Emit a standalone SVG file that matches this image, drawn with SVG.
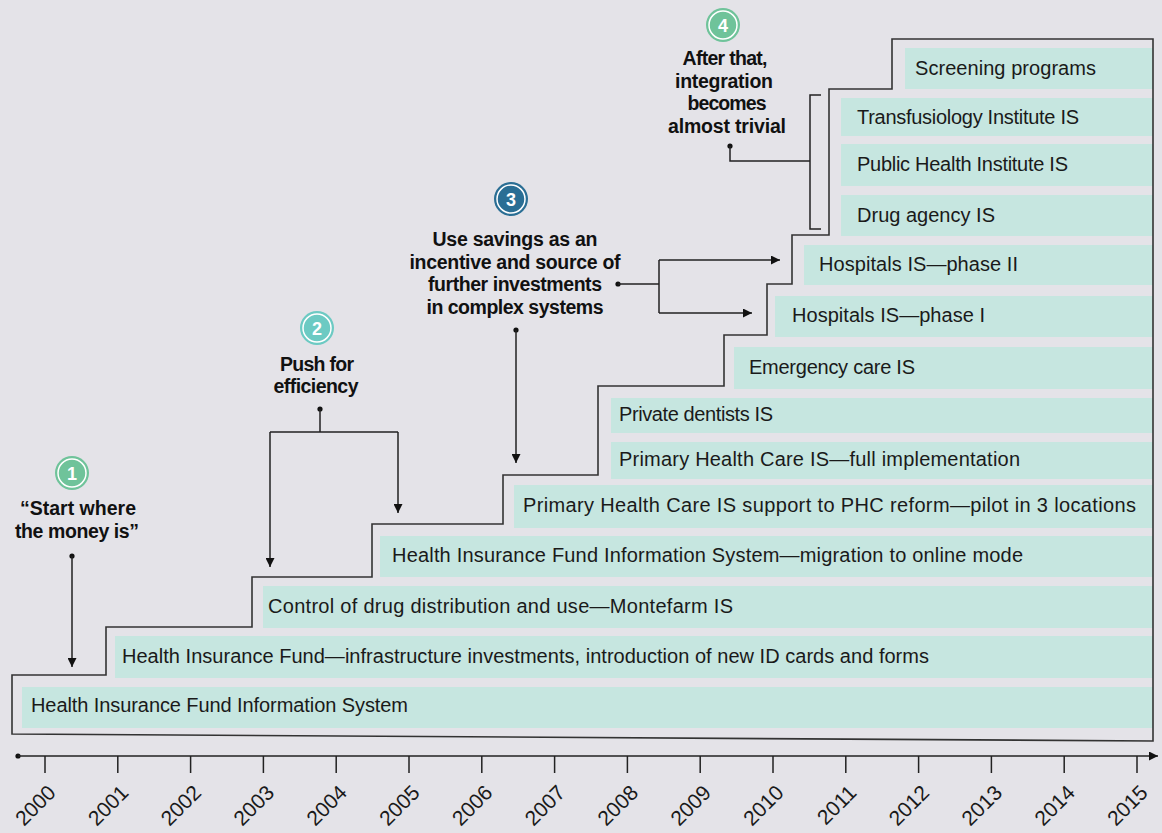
<svg xmlns="http://www.w3.org/2000/svg" width="1162" height="833" viewBox="0 0 1162 833">
<style>
.bar{fill:#c6e6e0}
.lbl{font-family:"Liberation Sans",Arial,sans-serif;font-size:20px;fill:#1a1a1a}
.ann{font-family:"Liberation Sans",Arial,sans-serif;font-size:19.5px;font-weight:bold;fill:#111;text-anchor:middle}
.num{font-family:"Liberation Sans",Arial,sans-serif;font-size:18px;font-weight:bold;fill:#fff;text-anchor:middle}
.ring{fill:none;stroke:#fff;stroke-width:1.5}
.con{fill:none;stroke:#222;stroke-width:1.5}
.outline{fill:none;stroke:#333;stroke-width:1.6}
.dot{fill:#111}
.yr{font-family:"Liberation Sans",Arial,sans-serif;font-size:21px;fill:#1a1a1a;text-anchor:end}
</style>
<defs>
<marker id="arr" viewBox="0 0 10 10" refX="10" refY="5" markerWidth="9" markerHeight="9" markerUnits="userSpaceOnUse" orient="auto">
<path d="M0,0 L10,5 L0,10 z" fill="#111"/>
</marker>
</defs>
<rect width="1162" height="833" fill="#e4e3e8"/>

<g id="bars">
<g id="n1"><rect class="bar" x="22" y="687" width="1131" height="41"/><text class="lbl" x="31" y="712" textLength="377">Health Insurance Fund Information System</text></g>
<g id="n2"><rect class="bar" x="115" y="636" width="1038" height="42"/><text class="lbl" x="122" y="663" textLength="807">Health Insurance Fund—infrastructure investments, introduction of new ID cards and forms</text></g>
<g id="n3"><rect class="bar" x="263" y="586" width="890" height="42"/><text class="lbl" x="268" y="613" textLength="465">Control of drug distribution and use—Montefarm IS</text></g>
<g id="n4"><rect class="bar" x="380" y="536" width="773" height="41"/><text class="lbl" x="392" y="562" textLength="631">Health Insurance Fund Information System—migration to online mode</text></g>
<g id="n5"><rect class="bar" x="514" y="485" width="639" height="43"/><text class="lbl" x="523" y="512" textLength="613">Primary Health Care IS support to PHC reform—pilot in 3 locations</text></g>
<g id="n6"><rect class="bar" x="611" y="442" width="542" height="37"/><text class="lbl" x="619" y="466" textLength="401">Primary Health Care IS—full implementation</text></g>
<g id="n7"><rect class="bar" x="611" y="398" width="542" height="35"/><text class="lbl" x="619" y="421" textLength="154">Private dentists IS</text></g>
<g id="n8"><rect class="bar" x="734" y="347" width="419" height="42"/><text class="lbl" x="749" y="374" textLength="166">Emergency care IS</text></g>
<g id="n9"><rect class="bar" x="775" y="296" width="378" height="41"/><text class="lbl" x="792" y="322" textLength="193">Hospitals IS—phase I</text></g>
<g id="n10"><rect class="bar" x="804" y="245" width="349" height="40"/><text class="lbl" x="819" y="271" textLength="199">Hospitals IS—phase II</text></g>
<g id="n11"><rect class="bar" x="841" y="195" width="312" height="41"/><text class="lbl" x="857" y="222" textLength="138">Drug agency IS</text></g>
<g id="n12"><rect class="bar" x="841" y="144" width="312" height="42"/><text class="lbl" x="857" y="171" textLength="211">Public Health Institute IS</text></g>
<g id="n13"><rect class="bar" x="841" y="98" width="312" height="38"/><text class="lbl" x="857" y="124" textLength="222">Transfusiology Institute IS</text></g>
<g id="n14"><rect class="bar" x="905" y="48" width="248" height="41"/><text class="lbl" x="915" y="75" textLength="181">Screening programs</text></g>
</g>

<path id="steps" class="outline" d="M12,734 L12,675 L106,675 L106,627 L252,627 L252,577 L372,577 L372,524 L503,524 L503,475 L598,475 L598,386 L724,386 L724,335 L767,335 L767,284 L792,284 L792,235 L829,235 L829,89 L892,89 L892,39 L1153,39 L1153,741 Z"/>

<g id="a1">
<circle cx="72" cy="473" r="17" fill="#6fc39a"/><circle class="ring" cx="72" cy="473" r="14"/>
<text class="num" x="72" y="479.5">1</text>
<text class="ann" x="78" y="515" textLength="116">“Start where</text>
<text class="ann" x="77" y="538" textLength="124">the money is”</text>
</g>
<g id="a2">
<circle cx="317" cy="328" r="17" fill="#6ccac3"/><circle class="ring" cx="317" cy="328" r="14"/>
<text class="num" x="317" y="334.5">2</text>
<text class="ann" x="317" y="371" textLength="74">Push for</text>
<text class="ann" x="316" y="393" textLength="85">efficiency</text>
</g>
<g id="a3">
<circle cx="511" cy="199" r="17" fill="#2a6e94"/><circle class="ring" cx="511" cy="199" r="14"/>
<text class="num" x="511" y="205.5">3</text>
<text class="ann" x="515" y="246" textLength="165">Use savings as an</text>
<text class="ann" x="515" y="269" textLength="211">incentive and source of</text>
<text class="ann" x="515" y="291" textLength="174">further investments</text>
<text class="ann" x="515" y="314" textLength="177">in complex systems</text>
</g>
<g id="a4">
<circle cx="723" cy="25" r="17" fill="#6fc39a"/><circle class="ring" cx="723" cy="25" r="14"/>
<text class="num" x="723" y="31.5">4</text>
<text class="ann" x="725" y="65" textLength="85">After that,</text>
<text class="ann" x="724" y="88" textLength="98">integration</text>
<text class="ann" x="727" y="110" textLength="79">becomes</text>
<text class="ann" x="727" y="133" textLength="118">almost trivial</text>
</g>

<g id="connectors">
<circle class="dot" cx="72" cy="556" r="2.6"/>
<path class="con" d="M72,556 L72,667" marker-end="url(#arr)"/>
<circle class="dot" cx="320" cy="409" r="2.6"/>
<path class="con" d="M320,409 L320,432 M270,432 L398,432"/>
<path class="con" d="M270,432 L270,567" marker-end="url(#arr)"/>
<path class="con" d="M398,432 L398,513" marker-end="url(#arr)"/>
<circle class="dot" cx="618" cy="284" r="2.6"/>
<path class="con" d="M618,284 L659,284 M659,260 L659,313"/>
<path class="con" d="M659,260 L780,260" marker-end="url(#arr)"/>
<path class="con" d="M659,313 L752,313" marker-end="url(#arr)"/>
<circle class="dot" cx="516" cy="330" r="2.6"/>
<path class="con" d="M516,330 L516,463" marker-end="url(#arr)"/>
<circle class="dot" cx="730" cy="146" r="2.6"/>
<path class="con" d="M730,146 L730,161 L810,161"/>
<path class="con" d="M821,95 L810,95 L810,229 L821,229"/>
</g>

<g id="axis">
<circle class="dot" cx="18" cy="756" r="2.6"/>
<path class="con" d="M18,756 L1158,756" marker-end="url(#arr)"/>
<path class="con" d="M45,756V773 M117.8,756V773 M190.6,756V773 M263.4,756V773 M336.2,756V773 M409,756V773 M481.8,756V773 M554.6,756V773 M627.4,756V773 M700.2,756V773 M773,756V773 M845.8,756V773 M918.6,756V773 M991.4,756V773 M1064.2,756V773 M1137,756V773"/>
<text class="yr" transform="translate(57,794) rotate(-45)">2000</text>
<text class="yr" transform="translate(129.8,794) rotate(-45)">2001</text>
<text class="yr" transform="translate(202.6,794) rotate(-45)">2002</text>
<text class="yr" transform="translate(275.4,794) rotate(-45)">2003</text>
<text class="yr" transform="translate(348.2,794) rotate(-45)">2004</text>
<text class="yr" transform="translate(421,794) rotate(-45)">2005</text>
<text class="yr" transform="translate(493.8,794) rotate(-45)">2006</text>
<text class="yr" transform="translate(566.6,794) rotate(-45)">2007</text>
<text class="yr" transform="translate(639.4,794) rotate(-45)">2008</text>
<text class="yr" transform="translate(712.2,794) rotate(-45)">2009</text>
<text class="yr" transform="translate(785,794) rotate(-45)">2010</text>
<text class="yr" transform="translate(857.8,794) rotate(-45)">2011</text>
<text class="yr" transform="translate(930.6,794) rotate(-45)">2012</text>
<text class="yr" transform="translate(1003.4,794) rotate(-45)">2013</text>
<text class="yr" transform="translate(1076.2,794) rotate(-45)">2014</text>
<text class="yr" transform="translate(1149,794) rotate(-45)">2015</text>
</g>
</svg>
